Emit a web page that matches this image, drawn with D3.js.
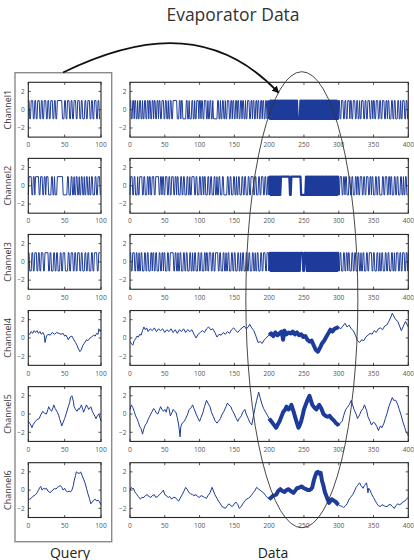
<!DOCTYPE html>
<html>
<head>
<meta charset="utf-8">
<script src="https://cdn.jsdelivr.net/npm/d3@7"></script>
<style>
  body { margin: 0; background: #fff; }
  text { font-family: "Open Sans", sans-serif; }
</style>
</head>
<body>
<svg id="chart"></svg>
<script>
// ---------- data ----------
const channels = ["Channel1", "Channel2", "Channel3", "Channel4", "Channel5", "Channel6"];
const queryTicks = [0, 50, 100];
const dataTicks = [0, 50, 100, 150, 200, 250, 300, 350, 400];
const yTicks = [-2, 0, 2];
const queryLength = 100;
const dataLength = 400;
const matchRange = [200, 300];

// channels 1-3 are two-level signals: run lengths of alternating +1 / -1 levels
const binQueryStart = [1, -1, 1];
const binDataStart = [1, -1, 1];

const ch1QueryRuns = [2,2,3,2,2,2,3,2,2,2,3,2,2,2,3,2,2,2,7,3,2,2,3,2,2,2,3,2,3,2,2,3,2,2,3,2,2,2,3,2,2,2];
const ch2QueryRuns = [1,4,2,2,1,5,2,3,2,2,1,3,4,2,2,1,3,8,6,2,3,2,2,1,2,2,2,1,2,2,2,1,2,2,2,1,2,2,3,2,2,3,1];
const ch3QueryRuns = [2,3,2,2,3,2,2,2,3,2,5,2,2,3,2,2,2,3,2,2,3,4,2,2,3,2,2,2,3,2,2,3,2,2,2,3,2,2,4,2,3];

const ch1DataRuns = [
  2,2,2,1,2,2,1,2,2,2,1,2,2,2,2,1,2,2,2,1,2,2,2,1,2,2,3,
  2,2,2,1,2,2,2,6,3,2,1,2,5,2,2,1,3,2,2,1,2,3,1,
  2,1,2,2,3,2,1,2,2,2,1,6,2,2,1,2,2,2,1,2,3,2,2,1,2,
  2,2,1,2,2,2,1,2,2,1,2,3,2,2,1,2,2,2,1,2,2,2,1,2,2,2,1,1,1,
  1,1,1,1,1,1,1,1,1,1, 1,1,1,1,1,1,1,1,1,1, 1,1,1,1,1,1,1,1,1,1, 1,1,1,1,1,1,1,1,1,1, 1,
  4,
  1,1,1,1,1,1,1,1,1,1, 1,1,1,1,1,1,1,1,1,1, 1,1,1,1,1,1,1,1,1,1, 1,1,1,1,1,1,1,1,1,1, 1,1,1,1,1,1,1,1,1,1, 1,1,1,
  2,
  2,2,3,2,2,2,3,1,2,2,3,2,2,2,1,2,3,2,2,2,3,2,2,1,2,2,3,2,2,2,3,2,2,1,2,3,2,2,2,3,2,2,1,2,3,2,2,2
];
const ch2DataRuns = [
  1,3,2,2,3,1,2,4,2,2,3,2,1,2,2,3,2,5,2,2,1,2,2,3,2,2,2,3,2,2,1,2,3,2,2,2,3,2,2,1,2,4,2,2,3,
  2,2,2,1,2,3,2,2,2,3,2,2,1,2,2,3,2,5,2,2,2,3,2,2,1,2,2,3,2,2,2,3,2,2,4,2,2,3,2,2,3,2,2,2,2,
  1,1,1,1,1,1,1,1,1,1, 1,1,1,1,1,1,1,
  13, 2, 14, 7,
  1,1,1,1,1,1,1,1,1,1, 1,1,1,1,1,1,1,1,1,1, 1,1,1,1,1,1,1,1,1,1, 1,1,1,1,1,1,1,1,1,1, 1,1,1,1,1,1,1,
  2,3,2,2,1,2,3,2,2,2,3,2,1,2,2,3,2,2,2,3,2,2,1,2,3,2,2,2,4,2,2,3,2,2,1,2,3,2,2,2,3,2,2,1,2,2,2
];
const ch3DataRuns = [
  2,2,3,2,2,2,1,2,2,3,2,2,2,3,2,1,2,2,2,3,2,2,2,1,2,3,2,2,5,2,2,2,1,2,2,3,2,2,2,3,2,2,1,2,2,3,
  2,2,2,3,2,1,2,2,3,2,2,2,4,2,2,3,2,2,1,2,2,3,2,2,2,3,2,2,1,2,2,3,2,2,2,3,2,2,1,2,2,3,2,2,3,2,3,
  1,1,1,1,1,1,1,1,1,1, 1,1,1,1,1,1,1,1,1,1, 1,1,1,1,1,1,1,1,1,1, 1,1,1,1,1,1,1,1,1,1, 1,1,1,1,1,
  4, 2, 3,
  1,1,1,1,1,1,1,1,1,1, 1,1,1,1,1,1,1,1,1,1, 1,1,1,1,1,1,1,1,1,1, 1,1,1,1,1,1,1,1,1,1, 1,1,1,1,1,1,
  2,2,3,2,2,2,1,2,3,2,2,2,3,2,2,1,2,2,3,2,2,4,2,2,3,2,2,1,2,2,3,2,2,2,3,2,2,1,2,3,2,2,2,3,2,2,1,2
];

// channels 4-6: [time, value]
const ch4Query = [[0,0.5],[2,0.4],[4,0.7],[6,0.5],[8,0.8],[10,0.6],[12,0.8],[14,0.5],[16,0.7],[18,0.4],[20,0.6],[22,0.3],[23,-0.5],[25,0.2],[27,0.4],[30,0.3],[33,0.6],[36,0.4],[39,0.6],[42,0.5],[45,0.4],[48,0.5],[50,0.2],[52,0.3],[55,-0.2],[57,0.1],[60,0.2],[62,-0.1],[65,-0.5],[67,-0.8],[69,-1.2],[71,-1.5],[73,-1.3],[75,-0.8],[77,-0.6],[80,-0.2],[82,-0.3],[85,0.0],[87,0.1],[90,0.3],[92,0.2],[94,0.5],[96,0.4],[97,1.0],[99,0.7],[100,0.9]];
const ch5Query = [[0,-0.8],[2,-1.0],[4,-1.3],[5,-1.5],[7,-1.1],[10,-0.8],[12,-0.6],[15,-0.5],[17,-0.1],[20,0.3],[22,0.1],[25,0.0],[27,0.5],[28,0.8],[30,0.5],[32,0.3],[34,0.7],[35,1.0],[37,0.6],[40,0.2],[42,-0.2],[43,-0.5],[45,-1.0],[46,-1.3],[48,-0.9],[50,-0.5],[52,0.0],[55,0.8],[57,1.3],[58,1.8],[60,2.0],[62,1.4],[63,0.8],[65,0.5],[67,0.3],[69,0.6],[70,0.5],[72,0.8],[73,1.0],[75,0.5],[76,0.2],[78,0.6],[80,1.0],[82,0.7],[83,0.5],[85,0.7],[86,0.8],[88,0.3],[90,0.0],[92,-0.3],[93,-0.5],[95,-0.2],[97,0.0],[99,-0.5],[100,-0.8]];
const ch6Query = [[0,-1.0],[2,-1.0],[4,-0.9],[6,-0.7],[8,-0.6],[10,-0.5],[12,-0.3],[14,0.0],[16,0.3],[17,0.4],[19,0.0],[21,0.2],[23,0.1],[25,0.2],[27,-0.1],[29,-0.2],[30,-0.3],[32,-0.1],[34,0.0],[36,0.2],[38,0.1],[40,0.3],[42,0.4],[44,0.5],[46,0.3],[48,0.0],[50,0.2],[52,-0.1],[54,-0.2],[56,-0.1],[58,-0.2],[60,0.0],[62,0.5],[63,1.0],[65,1.6],[66,2.0],[68,1.9],[70,1.8],[72,2.0],[74,1.6],[76,1.2],[78,0.8],[80,0.2],[82,-0.4],[84,-0.9],[86,-1.5],[88,-1.3],[90,-1.1],[92,-1.0],[94,-1.2],[96,-1.1],[98,-1.3],[100,-1.6]];

const ch4Data = [[0,-0.4],[2,-0.6],[4,-0.8],[6,-0.3],[8,-0.1],[10,0.2],[12,0.1],[14,0.4],[16,0.3],[18,0.8],[20,1.2],[22,0.9],[24,1.1],[26,0.7],[29,1.0],[32,0.8],[35,1.1],[38,0.7],[41,1.0],[44,0.8],[47,1.0],[50,0.6],[53,0.9],[56,0.7],[59,1.0],[62,0.6],[65,0.9],[68,0.5],[71,0.9],[74,0.7],[77,1.0],[80,0.6],[83,0.9],[86,0.7],[89,0.9],[92,0.4],[95,0.0],[98,0.4],[101,0.6],[104,0.8],[107,0.6],[110,1.0],[113,1.2],[116,0.9],[119,1.0],[122,0.6],[125,0.1],[128,0.4],[131,0.3],[134,0.6],[137,0.4],[140,0.7],[143,0.5],[146,0.9],[149,1.1],[152,0.8],[155,0.6],[158,0.9],[161,1.1],[164,1.3],[167,1.0],[170,1.2],[172,1.5],[175,1.1],[178,0.8],[181,0.2],[184,-0.5],[187,-0.4],[190,-0.6],[193,-0.2],[196,0.0],[198,0.2],
  [200,0.3],[203,0.5],[206,0.2],[209,0.6],[212,0.3],[215,0.5],[218,0.7],[220,-0.2],[222,0.8],[225,0.4],[228,0.6],[231,0.5],[234,0.7],[237,0.4],[240,0.6],[243,0.3],[246,0.4],[249,0.1],[252,0.2],[255,-0.2],[258,-0.4],[261,-0.3],[264,-0.8],[267,-1.3],[270,-1.5],[273,-1.1],[276,-0.6],[279,-0.3],[282,0.1],[285,0.5],[288,0.9],[291,0.7],[294,1.0],[297,1.1],[300,1.2],
  [303,1.0],[306,1.3],[309,1.6],[312,1.2],[315,1.4],[318,1.0],[321,0.8],[324,0.3],[327,-0.3],[330,-0.5],[333,-0.2],[336,-0.3],[339,0.1],[342,0.3],[345,0.5],[348,0.4],[351,0.8],[354,0.6],[357,1.0],[360,1.1],[363,0.9],[366,1.3],[369,1.4],[372,1.8],[375,2.3],[377,2.7],[379,2.4],[382,2.0],[385,1.8],[388,1.2],[390,0.8],[393,1.3],[396,1.8],[398,1.5],[400,1.2]];
const ch5Data = [[0,0.5],[2,1.0],[4,0.7],[6,0.3],[8,-0.2],[10,-0.5],[12,-0.9],[14,-1.4],[16,-1.6],[18,-2.2],[20,-1.6],[22,-1.2],[24,-1.0],[26,-0.6],[28,-0.3],[30,0.0],[32,0.3],[34,0.6],[36,0.4],[38,0.1],[40,0.0],[42,0.4],[44,0.8],[46,0.5],[48,0.3],[50,0.5],[52,0.2],[54,0.8],[56,0.6],[58,-0.2],[60,0.1],[62,0.5],[64,0.3],[66,0.2],[68,-0.4],[70,-1.2],[72,-2.5],[73,-1.4],[75,-1.0],[78,-0.8],[80,-0.5],[83,0.0],[85,0.5],[88,0.7],[90,1.0],[92,0.6],[95,0.0],[98,-0.5],[100,-0.8],[102,-0.4],[105,0.2],[107,0.8],[110,1.5],[112,1.2],[115,0.8],[117,0.2],[120,-0.3],[122,-0.7],[125,-1.0],[127,-0.8],[130,-0.5],[132,-0.1],[135,0.3],[138,0.8],[140,1.2],[142,1.0],[145,0.8],[147,0.4],[150,0.0],[152,-0.4],[155,-0.8],[157,-0.5],[160,-0.2],[162,0.2],[165,0.5],[167,0.0],[170,-0.5],[172,-0.9],[175,-1.2],[177,-0.4],[180,0.8],[182,1.5],[185,2.4],[187,1.8],[190,1.0],[192,0.6],[195,0.2],[198,-0.2],
  [200,-0.5],[203,-0.8],[205,-1.0],[208,-1.3],[210,-1.5],[212,-1.2],[215,-0.8],[218,-0.2],[220,0.2],[223,0.5],[225,0.8],[228,0.5],[230,0.7],[232,1.0],[235,0.3],[238,-0.5],[240,-1.0],[242,-1.5],[244,-1.2],[246,-0.8],[248,-0.2],[250,0.5],[252,0.9],[255,1.5],[258,2.0],[260,1.5],[262,1.0],[265,0.7],[268,0.5],[270,0.8],[272,1.0],[275,0.6],[278,0.0],[281,-0.2],[284,-0.3],[287,-0.2],[290,-0.5],[293,-0.7],[296,-1.0],[298,-1.1],[300,-1.3],
  [302,-1.0],[305,-0.8],[307,-0.2],[310,0.5],[312,0.7],[315,1.0],[318,1.5],[320,1.0],[322,0.5],[325,0.0],[327,-0.5],[330,-0.1],[332,0.3],[335,0.6],[337,1.0],[340,0.4],[342,-0.3],[345,-0.8],[347,-1.2],[350,-0.9],[352,-1.0],[355,-1.4],[357,-1.8],[360,-1.3],[362,-1.5],[365,-1.0],[367,-0.5],[370,0.2],[372,0.8],[375,1.4],[377,1.8],[379,1.5],[382,1.5],[385,1.0],[387,0.5],[390,-0.2],[392,-0.8],[395,-1.5],[397,-2.0],[399,-2.2],[400,-2.4]];
const ch6Data = [[0,0.0],[2,0.3],[4,0.1],[5,0.2],[7,-0.2],[10,-0.5],[12,-0.7],[15,-1.0],[17,-0.8],[20,-0.8],[22,-0.6],[25,-0.5],[27,-0.7],[30,-0.8],[32,-0.6],[35,-0.5],[37,-0.8],[40,-0.7],[42,-0.5],[45,-0.3],[48,0.0],[50,-0.5],[52,-0.6],[55,-0.8],[57,-0.7],[60,-1.0],[62,-0.8],[65,-0.8],[67,-1.0],[70,-1.2],[72,-0.9],[75,-0.5],[77,-0.2],[80,0.3],[82,0.1],[85,-0.3],[87,-0.4],[90,-0.5],[92,-0.6],[95,-0.5],[97,-0.7],[100,-0.8],[102,-0.6],[105,-0.7],[107,-0.8],[110,-0.9],[112,-0.6],[115,-0.3],[118,0.3],[120,-0.1],[122,-0.5],[125,-0.9],[127,-1.2],[130,-1.5],[132,-1.8],[135,-1.9],[137,-2.0],[140,-1.7],[142,-1.5],[145,-1.7],[147,-1.8],[150,-1.5],[152,-1.3],[155,-1.6],[157,-2.0],[160,-1.8],[162,-1.5],[165,-1.2],[167,-1.0],[170,-0.9],[172,-0.8],[175,-0.5],[177,-0.3],[180,0.0],[182,0.3],[185,0.1],[187,0.0],[190,-0.2],[192,-0.3],[195,-0.6],[197,-0.8],
  [200,-1.0],[203,-0.8],[206,-0.6],[210,-0.5],[213,-0.1],[216,0.1],[219,-0.1],[222,-0.2],[225,0.0],[228,0.1],[231,-0.1],[235,-0.3],[238,0.0],[240,0.2],[244,0.3],[247,0.4],[250,0.2],[253,0.1],[256,0.0],[258,0.0],[260,0.1],[262,0.3],[264,1.0],[266,1.5],[268,1.9],[270,2.0],[272,1.8],[274,1.9],[276,1.0],[278,0.5],[280,-0.2],[282,-0.6],[284,-1.0],[286,-1.4],[288,-1.2],[290,-1.0],[292,-1.1],[294,-1.2],[296,-1.3],[298,-1.5],[300,-1.6],
  [302,-1.7],[305,-1.8],[307,-1.9],[310,-1.7],[312,-1.5],[315,-1.0],[317,-0.8],[320,-0.5],[322,-0.2],[325,0.3],[327,0.5],[330,0.8],[332,0.5],[335,0.2],[337,0.5],[340,0.8],[341,0.3],[342,-0.3],[343,0.2],[345,0.0],[347,-0.4],[350,-0.8],[352,-1.1],[355,-1.5],[357,-1.7],[360,-1.8],[362,-1.6],[365,-1.7],[367,-1.8],[370,-1.8],[372,-1.6],[375,-1.6],[377,-1.8],[380,-2.0],[382,-1.7],[385,-1.5],[387,-1.6],[390,-1.5],[392,-1.3],[395,-1.2],[397,-1.0],[400,-0.8]];

// ---------- layout ----------
const width = 414, height = 560;
const rowTop = 82.3, rowStep = 76.08, plotH = 54.8;
const blue = "#1d3b9b";

const svg = d3.select("#chart")
    .attr("width", width)
    .attr("height", height)
    .style("background", "#fff");

// turn run lengths into line points (each run holds its level, 1-sample transitions)
function runsToPoints(runs, start, n) {
    const pts = [];
    let t = 0, level = start;
    for (const len of runs) {
        if (t > n) break;
        pts.push([t, level]);
        pts.push([Math.min(t + len - 1, n), level]);
        t += len;
        level = -level;
    }
    return pts;
}

const querySeries = [
    runsToPoints(ch1QueryRuns, binQueryStart[0], queryLength),
    runsToPoints(ch2QueryRuns, binQueryStart[1], queryLength),
    runsToPoints(ch3QueryRuns, binQueryStart[2], queryLength),
    ch4Query, ch5Query, ch6Query
];
const dataSeries = [
    runsToPoints(ch1DataRuns, binDataStart[0], dataLength),
    runsToPoints(ch2DataRuns, binDataStart[1], dataLength),
    runsToPoints(ch3DataRuns, binDataStart[2], dataLength),
    ch4Data, ch5Data, ch6Data
];

const xQuery = d3.scaleLinear().domain([0, queryLength]).range([28.3, 101]);
const xData = d3.scaleLinear().domain([0, dataLength]).range([130, 408.3]);

function drawPanel(g, x, y, pts, xticks, thick) {
    const line = d3.line().x(d => x(d[0])).y(d => y(d[1]));
    g.append("path")
        .attr("d", line(pts))
        .attr("fill", "none")
        .attr("stroke", blue)
        .attr("stroke-width", 1)
        .attr("stroke-linejoin", "round");

    if (thick) {
        const seg = pts.filter(d => d[0] >= matchRange[0] && d[0] <= matchRange[1]);
        g.append("path")
            .attr("d", line(seg))
            .attr("fill", "none")
            .attr("stroke", blue)
            .attr("stroke-width", thick)
            .attr("stroke-linejoin", "round");
    }

    const [x0, x1] = x.range();
    const [y1, y0] = y.range();
    g.append("rect")
        .attr("x", x0).attr("y", y0)
        .attr("width", x1 - x0).attr("height", y1 - y0)
        .attr("fill", "none")
        .attr("stroke", "#262626")
        .attr("stroke-width", 1.1);

    // inward ticks, MATLAB style
    const tk = 2.5;
    xticks.forEach(t => {
        const px = x(t);
        g.append("line").attr("x1", px).attr("x2", px).attr("y1", y0).attr("y2", y0 + tk)
            .attr("stroke", "#262626").attr("stroke-width", 0.8);
        g.append("line").attr("x1", px).attr("x2", px).attr("y1", y1).attr("y2", y1 - tk)
            .attr("stroke", "#262626").attr("stroke-width", 0.8);
        g.append("text")
            .attr("x", px).attr("y", y1 + 10.3)
            .attr("text-anchor", "middle")
            .attr("font-size", 6.6)
            .attr("fill", "#555")
            .text(t);
    });
    yTicks.forEach(t => {
        const py = y(t);
        g.append("line").attr("x1", x0).attr("x2", x0 + tk).attr("y1", py).attr("y2", py)
            .attr("stroke", "#262626").attr("stroke-width", 0.8);
        g.append("line").attr("x1", x1).attr("x2", x1 - tk).attr("y1", py).attr("y2", py)
            .attr("stroke", "#262626").attr("stroke-width", 0.8);
        g.append("text")
            .attr("x", x0 - 3.5).attr("y", py)
            .attr("dy", "0.35em")
            .attr("text-anchor", "end")
            .attr("font-size", 6.6)
            .attr("fill", "#555")
            .text(t < 0 ? "\u2212" + Math.abs(t) : t);
    });
}

// query frame
svg.append("rect")
    .attr("x", 15).attr("y", 72.7)
    .attr("width", 96.7).attr("height", 469)
    .attr("fill", "none")
    .attr("stroke", "#8a8a8a")
    .attr("stroke-width", 1.4);

channels.forEach((name, i) => {
    const top = rowTop + i * rowStep;
    const y = d3.scaleLinear().domain([-3, 3]).range([top + plotH, top]);
    const g = svg.append("g");
    drawPanel(g, xQuery, y, querySeries[i], queryTicks, 0);
    drawPanel(g, xData, y, dataSeries[i], dataTicks, i < 3 ? 2.2 : 4);

    svg.append("text")
        .attr("transform", `translate(11,${top + plotH / 2}) rotate(-90)`)
        .attr("text-anchor", "middle")
        .attr("font-size", 9)
        .attr("fill", "#333")
        .text(name);
});

// titles
svg.append("text")
    .attr("x", 233).attr("y", 20.7)
    .attr("text-anchor", "middle")
    .attr("font-size", 17.5)
    .attr("fill", "#333")
    .text("Evaporator Data");
svg.append("text")
    .attr("x", 70).attr("y", 557.5)
    .attr("text-anchor", "middle")
    .attr("font-size", 14)
    .attr("fill", "#222")
    .text("Query");
svg.append("text")
    .attr("x", 273).attr("y", 557.5)
    .attr("text-anchor", "middle")
    .attr("font-size", 14)
    .attr("fill", "#222")
    .text("Data");

// ellipse around the matching window
svg.append("ellipse")
    .attr("cx", xData(247)).attr("cy", 299.7)
    .attr("rx", xData(247) - xData(166.5)).attr("ry", 228)
    .attr("fill", "none")
    .attr("stroke", "#333")
    .attr("stroke-width", 0.9);

// arrow from query to match
svg.append("defs").append("marker")
    .attr("id", "head")
    .attr("viewBox", "0 0 10 10")
    .attr("refX", 9).attr("refY", 5)
    .attr("markerWidth", 4).attr("markerHeight", 4)
    .attr("orient", "auto")
    .append("path")
    .attr("d", "M0,0L10,5L0,10z")
    .attr("fill", "#111");

const tip = [xData(215), rowTop + plotH / 2 - 1.75 * plotH / 6];
const p = d3.path();
p.moveTo(63, 72.5);
p.bezierCurveTo(130, 40, 210, 20, tip[0] - 1, tip[1] - 1);
svg.append("path")
    .attr("d", p.toString())
    .attr("fill", "none")
    .attr("stroke", "#111")
    .attr("stroke-width", 1.8)
    .attr("marker-end", "url(#head)");
</script>
</body>
</html>
